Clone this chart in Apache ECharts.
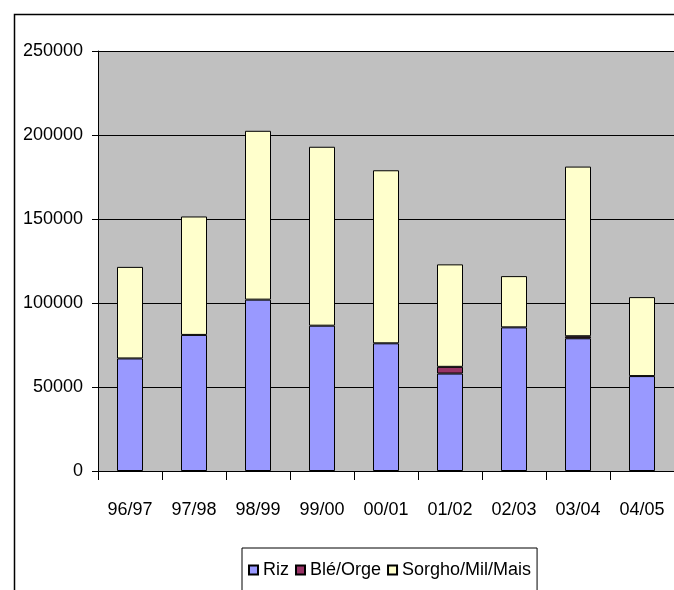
<!DOCTYPE html>
<html>
<head>
<meta charset="utf-8">
<style>html,body{margin:0;padding:0;background:#fff}#c{width:674px;height:590px}</style>
<script src="https://cdn.jsdelivr.net/npm/echarts@6/dist/echarts.min.js"></script>
</head>
<body>
<div id="c"></div>
<script>
const titleText = "Importations de céréales par catégorie";
const categories = ["96/97","97/98","98/99","99/00","00/01","01/02","02/03","03/04","04/05"];
const riz = [67000, 81000, 102000, 86500, 76000, 58000, 85500, 79000, 56500];
const bleOrge = [0, 0, 0, 0, 0, 4000, 0, 1200, 0];
const sorgho = [54500, 70500, 100500, 106500, 103000, 61000, 30500, 101000, 47000];
const yTicks = [0, 50000, 100000, 150000, 200000, 250000];

const FONT = "'Liberation Sans',Arial,sans-serif";
const nz = a => a.map(v => v === 0 ? null : v);
const barStyle = c => ({color: c, borderColor: '#000', borderWidth: 1});

const chart = echarts.init(document.getElementById('c'), null, {renderer: 'canvas'});
chart.setOption({
  backgroundColor: '#fff',
  animation: false,
  title: {
    text: titleText, left: 'center', top: -29.5,
    textStyle: {fontFamily: "'Liberation Serif','Times New Roman',serif", fontWeight: 'bold', fontSize: 26, color: '#000'}
  },
  graphic: [{
    type: 'rect', left: 12, top: 12, z: -1,
    shape: {x: 0, y: 0, width: 700, height: 620},
    style: {fill: 'none', stroke: '#000', lineWidth: 1.5}
  }],
  grid: {left: 98, top: 51, right: -9, bottom: 119, show: true, backgroundColor: '#C0C0C0', borderWidth: 0},
  legend: {
    left: 242, top: 548,
    padding: [13, 6, 30, 6],
    itemGap: 6, itemWidth: 9, itemHeight: 9,
    backgroundColor: '#fff', borderColor: '#000', borderWidth: 1,
    icon: 'rect',
    textStyle: {fontFamily: FONT, fontSize: 18, color: '#000'},
    data: ['Riz', 'Blé/Orge', 'Sorgho/Mil/Mais']
  },
  xAxis: {
    type: 'category', data: categories,
    axisLine: {lineStyle: {color: '#000', width: 1}},
    axisTick: {show: true, length: 9, lineStyle: {color: '#000'}},
    axisLabel: {fontFamily: FONT, fontSize: 18, color: '#000', margin: 30, interval: 0}
  },
  yAxis: {
    type: 'value', min: yTicks[0], max: yTicks[yTicks.length - 1], interval: yTicks[1] - yTicks[0],
    axisLine: {show: true, lineStyle: {color: '#000', width: 1}},
    axisTick: {show: true, length: 6, lineStyle: {color: '#000'}},
    axisLabel: {fontFamily: FONT, fontSize: 18, color: '#000', margin: 15, formatter: v => String(v)},
    splitLine: {show: true, lineStyle: {color: '#000', width: 1}}
  },
  series: [
    {name: 'Riz', type: 'bar', stack: 't', barWidth: 26, data: riz, itemStyle: barStyle('#9999FF')},
    {name: 'Blé/Orge', type: 'bar', stack: 't', barWidth: 26, data: nz(bleOrge), itemStyle: barStyle('#993366')},
    {name: 'Sorgho/Mil/Mais', type: 'bar', stack: 't', barWidth: 26, data: sorgho, itemStyle: barStyle('#FFFFCC')}
  ]
});
</script>
</body>
</html>
